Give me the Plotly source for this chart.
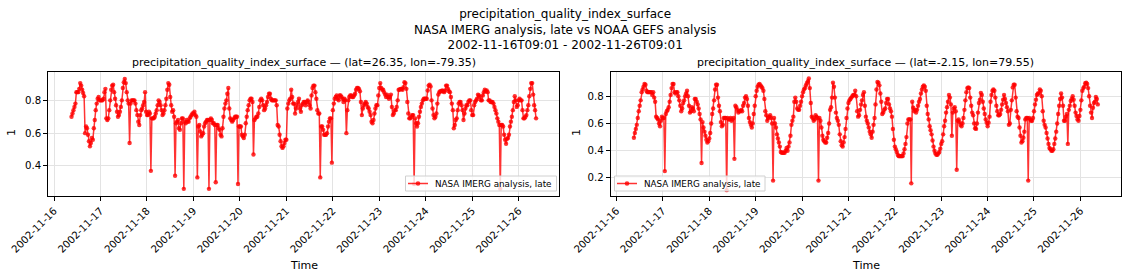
import pandas as pd
import plotly.graph_objects as go

times = pd.date_range("2002-11-16 09:01", periods=481, freq="30min")

left_vals = [
    0.70, 0.72, 0.74, 0.76, 0.78, 0.85, 0.85, 0.85, 0.87, 0.905,
    0.89, 0.865, 0.845, 0.825, 0.60, 0.64, 0.63, 0.59, 0.55, 0.52,
    0.54, 0.57, 0.56, 0.63, 0.68, 0.74, 0.78, 0.81, 0.82, 0.80,
    0.80, 0.80, 0.80, 0.81, 0.85, 0.87, 0.69, 0.68, 0.69, 0.74,
    0.80, 0.865, 0.89, 0.895, 0.85, 0.81, 0.77, 0.73, 0.70, 0.71,
    0.73, 0.76, 0.80, 0.875, 0.91, 0.93, 0.905, 0.85, 0.80, 0.78,
    0.54, 0.78, 0.80, 0.80, 0.80, 0.80, 0.78, 0.74, 0.71, 0.67,
    0.65, 0.71, 0.74, 0.75, 0.77, 0.79, 0.85, 0.73, 0.71, 0.71,
    0.73, 0.72, 0.37, 0.69, 0.69, 0.69, 0.70, 0.72, 0.74, 0.77,
    0.80, 0.79, 0.77, 0.74, 0.71, 0.72, 0.74, 0.77, 0.81, 0.865,
    0.905, 0.895, 0.82, 0.77, 0.73, 0.74, 0.70, 0.34, 0.66, 0.67,
    0.68, 0.63, 0.62, 0.66, 0.69, 0.69, 0.26, 0.67, 0.66, 0.68,
    0.67, 0.67, 0.69, 0.70, 0.71, 0.72, 0.72, 0.73, 0.71, 0.70,
    0.33, 0.64, 0.65, 0.61, 0.58, 0.59, 0.60, 0.64, 0.66, 0.67,
    0.68, 0.68, 0.26, 0.68, 0.69, 0.68, 0.66, 0.66, 0.65, 0.30,
    0.65, 0.65, 0.63, 0.62, 0.59, 0.58, 0.63, 0.70, 0.75, 0.78,
    0.80, 0.84, 0.875, 0.75, 0.69, 0.68, 0.67, 0.68, 0.69, 0.70,
    0.70, 0.70, 0.29, 0.64, 0.64, 0.64, 0.59, 0.58, 0.57, 0.59,
    0.66, 0.70, 0.74, 0.77, 0.80, 0.81, 0.81, 0.79, 0.47, 0.68,
    0.69, 0.70, 0.70, 0.72, 0.76, 0.80, 0.81, 0.80, 0.77, 0.74,
    0.75, 0.77, 0.79, 0.82, 0.84, 0.84, 0.81, 0.80, 0.80, 0.80,
    0.80, 0.80, 0.77, 0.65, 0.64, 0.59, 0.55, 0.52, 0.51, 0.52,
    0.54, 0.56, 0.56, 0.75, 0.78, 0.80, 0.81, 0.865, 0.82, 0.78,
    0.78, 0.72, 0.75, 0.77, 0.79, 0.81, 0.75, 0.73, 0.77, 0.78,
    0.79, 0.79, 0.77, 0.79, 0.80, 0.79, 0.77, 0.75, 0.83, 0.875,
    0.89, 0.89, 0.85, 0.81, 0.74, 0.72, 0.72, 0.33, 0.64, 0.64,
    0.62, 0.59, 0.59, 0.59, 0.60, 0.64, 0.67, 0.69, 0.69, 0.42,
    0.74, 0.78, 0.81, 0.82, 0.83, 0.81, 0.80, 0.83, 0.83, 0.82,
    0.81, 0.79, 0.81, 0.80, 0.60, 0.74, 0.80, 0.82, 0.83, 0.83,
    0.82, 0.82, 0.83, 0.84, 0.865, 0.875, 0.875, 0.87, 0.855, 0.79,
    0.71, 0.75, 0.77, 0.78, 0.79, 0.78, 0.76, 0.75, 0.73, 0.71,
    0.67, 0.66, 0.68, 0.72, 0.75, 0.77, 0.77, 0.83, 0.875, 0.905,
    0.875, 0.865, 0.865, 0.85, 0.835, 0.82, 0.835, 0.82, 0.81, 0.82,
    0.835, 0.76, 0.71, 0.72, 0.74, 0.74, 0.76, 0.80, 0.865, 0.865,
    0.87, 0.87, 0.865, 0.88, 0.91, 0.905, 0.87, 0.79, 0.72, 0.69,
    0.69, 0.70, 0.71, 0.71, 0.29, 0.69, 0.66, 0.64, 0.66, 0.70,
    0.73, 0.76, 0.78, 0.80, 0.81, 0.81, 0.81, 0.81, 0.86, 0.89,
    0.895, 0.885, 0.80, 0.75, 0.71, 0.69, 0.70, 0.72, 0.78, 0.835,
    0.85, 0.855, 0.855, 0.86, 0.855, 0.85, 0.86, 0.89, 0.89, 0.87,
    0.855, 0.85, 0.82, 0.78, 0.74, 0.63, 0.65, 0.68, 0.69, 0.74,
    0.78, 0.79, 0.79, 0.77, 0.74, 0.68, 0.72, 0.75, 0.77, 0.77,
    0.79, 0.80, 0.80, 0.74, 0.71, 0.71, 0.77, 0.79, 0.80, 0.81,
    0.835, 0.83, 0.82, 0.80, 0.80, 0.83, 0.85, 0.865, 0.855, 0.86,
    0.85, 0.80, 0.80, 0.79, 0.79, 0.79, 0.78, 0.76, 0.74, 0.72,
    0.69, 0.67, 0.65, 0.26, 0.65, 0.65, 0.64, 0.59, 0.56, 0.535,
    0.565, 0.57, 0.59, 0.64, 0.67, 0.70, 0.74, 0.79, 0.825, 0.80,
    0.76, 0.77, 0.80, 0.81, 0.80, 0.80, 0.74, 0.69, 0.69, 0.70,
    0.71, 0.74, 0.77, 0.825, 0.87, 0.905, 0.905, 0.835, 0.77, 0.74,
    0.69,
]

right_vals = [
    0.495, 0.53, 0.56, 0.59, 0.64, 0.69, 0.73, 0.77, 0.83, 0.85,
    0.87, 0.89, 0.885, 0.84, 0.83, 0.83, 0.83, 0.83, 0.83, 0.81,
    0.83, 0.79, 0.76, 0.65, 0.64, 0.63, 0.60, 0.58, 0.62, 0.65,
    0.64, 0.64, 0.25, 0.67, 0.69, 0.70, 0.72, 0.76, 0.81, 0.86,
    0.89, 0.89, 0.83, 0.82, 0.83, 0.83, 0.80, 0.77, 0.73, 0.69,
    0.71, 0.75, 0.77, 0.80, 0.82, 0.84, 0.80, 0.73, 0.68, 0.69,
    0.72, 0.71, 0.69, 0.78, 0.78, 0.76, 0.74, 0.71, 0.67, 0.63,
    0.31, 0.61, 0.57, 0.54, 0.51, 0.48, 0.46, 0.47, 0.49, 0.53,
    0.60, 0.67, 0.71, 0.77, 0.85, 0.885, 0.885, 0.79, 0.73, 0.69,
    0.61, 0.58, 0.59, 0.64, 0.64, 0.64, 0.11, 0.64, 0.63, 0.63,
    0.64, 0.62, 0.63, 0.64, 0.34, 0.73, 0.72, 0.70, 0.68, 0.69,
    0.69, 0.70, 0.69, 0.73, 0.75, 0.79, 0.80, 0.78, 0.73, 0.64,
    0.61, 0.59, 0.57, 0.60, 0.67, 0.73, 0.80, 0.84, 0.87, 0.885,
    0.89, 0.88, 0.87, 0.86, 0.84, 0.78, 0.69, 0.66, 0.62, 0.64,
    0.65, 0.66, 0.64, 0.60, 0.18, 0.64, 0.60, 0.57, 0.52, 0.49,
    0.46, 0.43, 0.39, 0.385, 0.385, 0.385, 0.385, 0.40, 0.42, 0.40,
    0.43, 0.46, 0.51, 0.59, 0.62, 0.65, 0.76, 0.79, 0.76, 0.71,
    0.70, 0.70, 0.73, 0.76, 0.80, 0.83, 0.85, 0.86, 0.88, 0.895,
    0.91, 0.93, 0.86, 0.75, 0.65, 0.64, 0.62, 0.63, 0.66, 0.65,
    0.64, 0.18, 0.64, 0.62, 0.57, 0.51, 0.48, 0.47, 0.46, 0.46,
    0.495, 0.53, 0.60, 0.70, 0.72, 0.79, 0.90, 0.87, 0.79, 0.68,
    0.64, 0.62, 0.59, 0.52, 0.47, 0.44, 0.43, 0.46, 0.50, 0.56,
    0.64, 0.71, 0.75, 0.77, 0.78, 0.79, 0.80, 0.81, 0.81, 0.84,
    0.80, 0.69, 0.65, 0.66, 0.70, 0.74, 0.77, 0.81, 0.83, 0.73,
    0.65, 0.62, 0.60, 0.57, 0.54, 0.52, 0.495, 0.54, 0.59, 0.64,
    0.74, 0.85, 0.905, 0.90, 0.88, 0.82, 0.76, 0.67, 0.68, 0.70,
    0.71, 0.75, 0.78, 0.78, 0.74, 0.71, 0.69, 0.65, 0.56, 0.48,
    0.43, 0.41, 0.39, 0.37, 0.36, 0.36, 0.36, 0.36, 0.36, 0.38,
    0.41, 0.45, 0.50, 0.60, 0.63, 0.63, 0.63, 0.16, 0.76, 0.715,
    0.69, 0.70, 0.68, 0.70, 0.73, 0.76, 0.78, 0.82, 0.85, 0.87,
    0.88, 0.87, 0.84, 0.73, 0.67, 0.63, 0.58, 0.55, 0.52, 0.475,
    0.43, 0.40, 0.38, 0.37, 0.37, 0.38, 0.39, 0.415, 0.45, 0.47,
    0.52, 0.58, 0.62, 0.68, 0.72, 0.76, 0.81, 0.79, 0.74, 0.51,
    0.68, 0.71, 0.72, 0.69, 0.26, 0.62, 0.63, 0.61, 0.59, 0.58,
    0.60, 0.64, 0.70, 0.77, 0.83, 0.86, 0.865, 0.86, 0.79, 0.73,
    0.68, 0.66, 0.60, 0.565, 0.56, 0.60, 0.68, 0.75, 0.775, 0.825,
    0.81, 0.76, 0.71, 0.67, 0.63, 0.605, 0.58, 0.605, 0.65, 0.76,
    0.81, 0.84, 0.85, 0.84, 0.79, 0.73, 0.69, 0.66, 0.66, 0.67,
    0.70, 0.74, 0.775, 0.81, 0.78, 0.75, 0.72, 0.69, 0.59, 0.60,
    0.70, 0.77, 0.865, 0.885, 0.885, 0.79, 0.69, 0.65, 0.64, 0.57,
    0.51, 0.46, 0.47, 0.495, 0.54, 0.63, 0.64, 0.64, 0.18, 0.64,
    0.63, 0.62, 0.62, 0.64, 0.69, 0.74, 0.775, 0.81, 0.82, 0.82,
    0.85, 0.84, 0.80, 0.69, 0.62, 0.59, 0.57, 0.53, 0.49, 0.45,
    0.42, 0.41, 0.40, 0.40, 0.41, 0.45, 0.49, 0.54, 0.60, 0.67,
    0.73, 0.78, 0.82, 0.79, 0.73, 0.62, 0.62, 0.65, 0.67, 0.45,
    0.70, 0.73, 0.765, 0.78, 0.80, 0.775, 0.73, 0.68, 0.655, 0.63,
    0.62, 0.655, 0.70, 0.77, 0.84, 0.86, 0.87, 0.895, 0.90, 0.89,
    0.86, 0.80, 0.73, 0.68, 0.64, 0.715, 0.75, 0.76, 0.795, 0.78,
    0.74,
]

tick_dates = pd.date_range("2002-11-16", "2002-11-26", freq="D")
tick_labels = [d.strftime("%Y-%m-%d") for d in tick_dates]

main_title = ("precipitation_quality_index_surface<br>"
              "NASA IMERG analysis, late vs NOAA GEFS analysis<br>"
              "2002-11-16T09:01 - 2002-11-26T09:01")
sub_titles = ["precipitation_quality_index_surface \u2014 (lat=26.35, lon=-79.35)",
              "precipitation_quality_index_surface \u2014 (lat=-2.15, lon=79.55)"]
series_name = "NASA IMERG analysis, late"

W, H = 1129, 279
FONT = "DejaVu Sans"
RED = "rgba(255,0,0,0.8)"


def px_x(x):
    return x / W


def px_y(y):
    return 1 - y / H


top, bot = 72.3, 196.0
l_dom = [px_x(48.3), px_x(559.3)]
r_dom = [px_x(610.7), px_x(1121.0)]

fig = go.Figure()
fig.add_trace(go.Scatter(x=times, y=left_vals, mode="lines+markers", name=series_name,
                         line=dict(color=RED, width=1.5), marker=dict(color=RED, size=4.4),
                         xaxis="x", yaxis="y", showlegend=False))
fig.add_trace(go.Scatter(x=times, y=right_vals, mode="lines+markers", name=series_name,
                         line=dict(color=RED, width=1.5), marker=dict(color=RED, size=4.4),
                         xaxis="x2", yaxis="y2", showlegend=False))

xcommon = dict(range=["2002-11-15 21:01", "2002-11-26 21:01"], tickvals=tick_dates,
               ticktext=tick_labels, tickangle=-45, ticks="outside", ticklen=4,
               tickcolor="black", showline=True, mirror=True, linecolor="black",
               linewidth=1, showgrid=True, gridcolor="#e3e3e3", gridwidth=1,
               tickfont=dict(family=FONT, size=10.2, color="black"), zeroline=False,
               automargin=False)
ycommon = dict(tick0=0, dtick=0.2, ticks="outside", ticklen=4, tickcolor="black",
               showline=True, mirror=True, linecolor="black", linewidth=1,
               showgrid=True, gridcolor="#e3e3e3", gridwidth=1, zeroline=False,
               tickfont=dict(family=FONT, size=10.2, color="black"), automargin=False)

fig.update_layout(
    width=W, height=H, margin=dict(l=0, r=0, t=0, b=0, autoexpand=False),
    paper_bgcolor="white", plot_bgcolor="white",
    font=dict(family=FONT, color="black"),
    xaxis=dict(domain=l_dom, anchor="y", **xcommon),
    yaxis=dict(domain=[px_y(bot), px_y(top)], anchor="x", range=[0.2165, 0.971], **ycommon),
    xaxis2=dict(domain=r_dom, anchor="y2", **xcommon),
    yaxis2=dict(domain=[px_y(bot), px_y(top)], anchor="x2", range=[0.067, 0.976], **ycommon),
    showlegend=False,
)

# legend boxes drawn in paper pixels (left panel: lower right, right panel: lower left)
legend_boxes = [(405.5, 556.5), (614.5, 765.0)]
shapes = []
ann = []
for (lx0, lx1) in legend_boxes:
    ly0, ly1 = 176.0, 191.0
    ymid = (ly0 + ly1) / 2
    shapes.append(dict(type="rect", xref="paper", yref="paper",
                       x0=px_x(lx0), x1=px_x(lx1), y0=px_y(ly1), y1=px_y(ly0),
                       line=dict(color="#d0d0d0", width=1),
                       fillcolor="rgba(255,255,255,0.8)", layer="above"))
    shapes.append(dict(type="line", xref="paper", yref="paper",
                       x0=px_x(lx0 + 2.5), x1=px_x(lx0 + 22.5), y0=px_y(ymid), y1=px_y(ymid),
                       line=dict(color=RED, width=1.5), layer="above"))
    r = 2.3
    shapes.append(dict(type="circle", xref="paper", yref="paper",
                       x0=px_x(lx0 + 12.5 - r), x1=px_x(lx0 + 12.5 + r),
                       y0=px_y(ymid + r), y1=px_y(ymid - r),
                       line=dict(color=RED, width=0), fillcolor=RED, layer="above"))
    ann.append(dict(text=series_name, x=px_x(lx0 + 27.5), y=px_y(ymid), xref="paper",
                    yref="paper", xanchor="left", yanchor="middle", showarrow=False,
                    font=dict(family=FONT, size=8.8, color="black")))

ann.append(dict(text=main_title, x=0.5, y=px_y(5), xref="paper", yref="paper",
                xanchor="center", yanchor="top", showarrow=False,
                font=dict(family=FONT, size=12, color="black")))
for dom, t in zip([l_dom, r_dom], sub_titles):
    ann.append(dict(text=t, x=(dom[0] + dom[1]) / 2, y=px_y(71.5), xref="paper", yref="paper",
                    xanchor="center", yanchor="bottom", showarrow=False,
                    font=dict(family=FONT, size=11, color="black")))
    ann.append(dict(text="Time", x=(dom[0] + dom[1]) / 2, y=px_y(265), xref="paper",
                    yref="paper", xanchor="center", yanchor="middle", showarrow=False,
                    font=dict(family=FONT, size=11, color="black")))
ann.append(dict(text="1", x=px_x(12), y=px_y(133), xref="paper", yref="paper",
                xanchor="center", yanchor="middle", showarrow=False, textangle=-90,
                font=dict(family=FONT, size=11, color="black")))
ann.append(dict(text="1", x=px_x(577), y=px_y(133), xref="paper", yref="paper",
                xanchor="center", yanchor="middle", showarrow=False, textangle=-90,
                font=dict(family=FONT, size=11, color="black")))
fig.update_layout(annotations=ann, shapes=shapes)

fig.write_html("out.html")
